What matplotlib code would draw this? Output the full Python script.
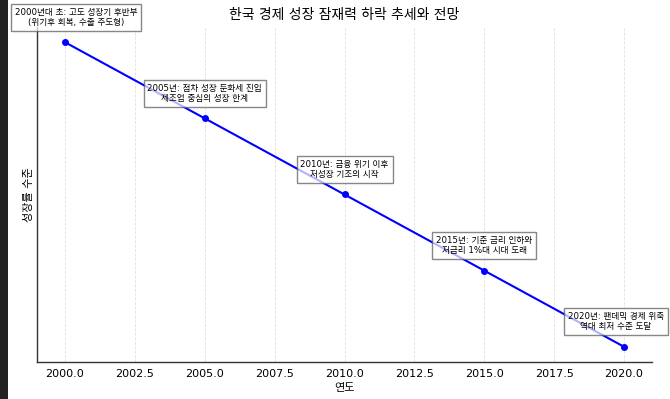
import matplotlib
matplotlib.use("Agg")
import matplotlib.pyplot as plt
from matplotlib.patches import Rectangle

plt.rcParams['font.family'] = ['DejaVu Sans', 'Noto Sans CJK KR']

years = [2000, 2005, 2010, 2015, 2020]
levels = [5, 4, 3, 2, 1]
notes = [
    "2000년대 초: 고도 성장기 후반부\n(위기후 회복, 수출 주도형)",
    "2005년: 점차 성장 둔화세 진입\n제조업 중심의 성장 한계",
    "2010년: 금융 위기 이후\n저성장 기조의 시작",
    "2015년: 기준 금리 인하와\n저금리 1%대 시대 도래",
    "2020년: 팬데믹 경제 위축\n역대 최저 수준 도달",
]
title = "한국 경제 성장 잠재력 하락 추세와 전망"
xlabel = "연도"
ylabel = "성장률 수준"

fig = plt.figure(figsize=(6.70, 3.99), dpi=100)
ax = fig.add_axes([37/670, 1 - 362/399, (652-37)/670, (362-27)/399])

ax.plot(years, levels, color='blue', linewidth=1.5, marker='o', markersize=4)

n = len(years)
for i, (x, y, t) in enumerate(zip(years, levels, notes)):
    dx = 8 if i == 0 else (-6 if i == n - 1 else 0)
    ax.annotate(t, (x, y), xytext=(dx, 18), textcoords='offset points',
                ha='center', va='center', fontsize=6.2, linespacing=1.2,
                bbox=dict(boxstyle='square,pad=0.45', facecolor='white',
                          edgecolor='#555555', alpha=0.7),
                annotation_clip=False)

ax.set_title(title, fontsize=10, pad=6)
ax.set_xlabel(xlabel, fontsize=8, labelpad=3)
ax.set_ylabel(ylabel, fontsize=8, labelpad=2)
ax.set_yticks([])
ax.tick_params(axis='x', labelsize=8, length=0, pad=5)
ax.grid(axis='x', linestyle='--', color='#e0e0e0', linewidth=0.6)
ax.set_axisbelow(True)
for s in ['top', 'right']:
    ax.spines[s].set_visible(False)
for s in ['left', 'bottom']:
    ax.spines[s].set_color('#333333')
    ax.spines[s].set_linewidth(1.0)

fig.patches.append(Rectangle((0, 0), 8/670, 1, transform=fig.transFigure,
                             facecolor='#222222', edgecolor='none', zorder=0))

fig.savefig("out.png", dpi=100)
